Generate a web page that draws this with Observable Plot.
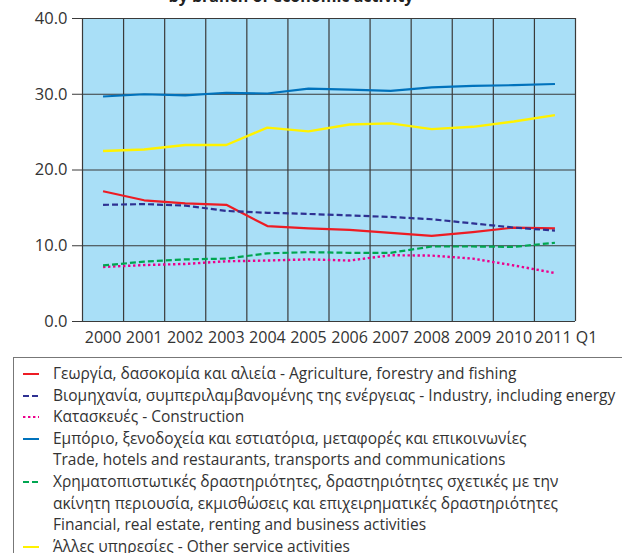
<!DOCTYPE html>
<html>
<head>
<meta charset="utf-8">
<script src="https://cdn.jsdelivr.net/npm/d3@7"></script>
<script src="https://cdn.jsdelivr.net/npm/@observablehq/plot@0.6"></script>
<style>
  html, body { margin: 0; padding: 0; }
  body { width: 622px; height: 553px; overflow: hidden; background: #fff; position: relative; font-family: "Open Sans", sans-serif; color: #333; }
  #title { position: absolute; top: -12px; left: 0; width: 582px; text-align: center; font-weight: bold; font-size: 16px; line-height: 16px; color: #222; white-space: nowrap; }
  #chart { position: absolute; top: 0; left: 0; }
  #legend { position: absolute; left: 13px; top: 357px; width: 660px; height: 240px; border: 1.5px solid #777; box-sizing: border-box; padding-top: 5px; }
  .entry { display: flex; align-items: flex-start; font-size: 15.5px; line-height: 21.6px; color: #333; white-space: nowrap; }
  .entry svg { flex: none; margin-left: 9px; margin-right: 14px; margin-top: 5px; }
</style>
</head>
<body>
<div id="title">by branch of economic activity</div>
<div id="chart"></div>
<div id="legend"></div>
<script>
// ---- data ----
const years = [2000, 2001, 2002, 2003, 2004, 2005, 2006, 2007, 2008, 2009, 2010, 2011];
const yearLabels = ["2000", "2001", "2002", "2003", "2004", "2005", "2006", "2007", "2008", "2009", "2010", "2011 Q1"];
const yTicks = [0, 10, 20, 30, 40];

const agriculture  = [17.2, 16.0, 15.6, 15.4, 12.6, 12.3, 12.1, 11.7, 11.3, 11.8, 12.4, 12.3];
const industry     = [15.4, 15.5, 15.3, 14.6, 14.35, 14.2, 14.0, 13.8, 13.5, 12.95, 12.4, 12.0];
const construction = [7.2, 7.45, 7.6, 7.95, 8.05, 8.2, 8.05, 8.75, 8.7, 8.3, 7.4, 6.4];
const trade        = [29.7, 30.0, 29.85, 30.2, 30.1, 30.75, 30.6, 30.45, 30.9, 31.1, 31.2, 31.35];
const financial    = [7.4, 7.9, 8.2, 8.3, 9.0, 9.15, 9.07, 9.07, 9.9, 9.9, 9.85, 10.4];
const other        = [22.5, 22.7, 23.3, 23.3, 25.6, 25.1, 26.0, 26.15, 25.4, 25.7, 26.4, 27.25];

const legendLabels = [
  ["Γεωργία, δασοκομία και αλιεία - Agriculture, forestry and fishing"],
  ["Βιομηχανία, συμπεριλαμβανομένης της ενέργειας - Industry, including energy"],
  ["Κατασκευές - Construction"],
  ["Εμπόριο, ξενοδοχεία και εστιατόρια, μεταφορές και επικοινωνίες", "Trade, hotels and restaurants, transports and communications"],
  ["Χρηματοπιστωτικές δραστηριότητες, δραστηριότητες σχετικές με την", "ακίνητη περιουσία, εκμισθώσεις και επιχειρηματικές δραστηριότητες", "Financial, real estate, renting and business activities"],
  ["Άλλες υπηρεσίες - Other service activities"]
];

// ---- styles ----
const styles = [
  {stroke: "#ed1c24", strokeWidth: 2.2, dash: null},
  {stroke: "#2e3192", strokeWidth: 2.2, dash: "6,3"},
  {stroke: "#ec008c", strokeWidth: 2.4, dash: "2.4,2.6"},
  {stroke: "#0072bc", strokeWidth: 2.2, dash: null},
  {stroke: "#00a651", strokeWidth: 2.2, dash: "6,3"},
  {stroke: "#fff200", strokeWidth: 2.4, dash: null}
];
const seriesValues = [agriculture, industry, construction, trade, financial, other];

const boundaries = years.map(y => y - 0.5).concat([years[years.length - 1] + 0.5]);
const lineData = seriesValues.map(vals => years.map((yr, i) => ({year: yr, value: vals[i]})));

const chart = Plot.plot({
  width: 622,
  height: 352,
  marginTop: 18,
  marginBottom: 31,
  marginLeft: 82,
  marginRight: 47,
  x: {domain: [years[0] - 0.5, years[years.length - 1] + 0.5], axis: null},
  y: {domain: [0, 40], axis: null},
  style: {fontFamily: "'Open Sans', sans-serif", fontSize: "16px", color: "#333", background: "transparent"},
  marks: [
    Plot.frame({fill: "#a9dff7", stroke: null}),
    Plot.ruleX(boundaries, {stroke: "#3a3a3a", strokeWidth: 1.2}),
    Plot.ruleY(yTicks, {stroke: "#3a3a3a", strokeWidth: 1.2}),
    Plot.axisY({ticks: yTicks, tickFormat: d => d.toFixed(1), tickSize: 10, tickPadding: 5, label: null, stroke: "#3a3a3a", fill: "#333", fontSize: 16.5}),
    ...lineData.map((d, i) => Plot.line(d, {
      x: "year", y: "value",
      stroke: styles[i].stroke,
      strokeWidth: styles[i].strokeWidth,
      strokeDasharray: styles[i].dash,
      strokeLinecap: "butt"
    })),
    Plot.text(years.slice(0, years.length - 1), {
      x: d => d, text: (d, i) => yearLabels[i], frameAnchor: "bottom",
      dy: 21, textAnchor: "middle", fill: "#333"
    }),
    Plot.text(years.slice(years.length - 1), {
      x: d => d, text: () => yearLabels[yearLabels.length - 1], frameAnchor: "bottom",
      dy: 21, dx: -20, textAnchor: "start", fill: "#333"
    })
  ]
});
document.getElementById("chart").appendChild(chart);

// ---- legend ----
const legend = document.getElementById("legend");
legendLabels.forEach((lines, i) => {
  const s = styles[i];
  const row = document.createElement("div");
  row.className = "entry";
  const dashAttr = s.dash ? ` stroke-dasharray="${s.dash}"` : "";
  row.innerHTML = `<svg width="16" height="12"><line x1="0" x2="16" y1="6" y2="6" stroke="${s.stroke}" stroke-width="2"${dashAttr}/></svg><div>${lines.join("<br>")}</div>`;
  legend.appendChild(row);
});
</script>
</body>
</html>
